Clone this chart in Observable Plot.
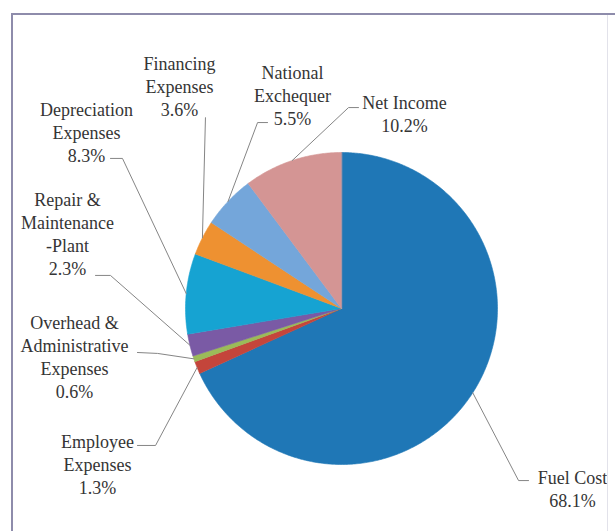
<!DOCTYPE html>
<html><head><meta charset="utf-8">
<script src="https://cdn.jsdelivr.net/npm/d3@7"></script>
<script src="https://cdn.jsdelivr.net/npm/@observablehq/plot@0.6"></script>
<style>
html,body{margin:0;padding:0;background:#fff;}
#wrap{position:relative;width:615px;height:531px;overflow:hidden;}
#chart{position:absolute;left:0;top:0;}
#frame{position:absolute;left:11px;top:13px;width:640px;height:560px;border-left:2px solid #8e8cab;border-top:2px solid #8e8cab;pointer-events:none;}
#rightEdge{position:absolute;left:607px;top:15px;width:1px;height:520px;background:#e2e2ea;pointer-events:none;}
</style></head><body>
<div id="wrap"><div id="chart"></div><div id="frame"></div><div id="rightEdge"></div></div>
<script>
// ---- data ----
const categories = ["Fuel Cost","Employee Expenses","Overhead & Administrative Expenses","Repair & Maintenance -Plant","Depreciation Expenses","Financing Expenses","National Exchequer","Net Income"];
const values = [68.1, 1.3, 0.6, 2.3, 8.3, 3.6, 5.5, 10.2];
const labelLines = [["Fuel Cost"],["Employee","Expenses"],["Overhead &","Administrative","Expenses"],["Repair &","Maintenance","-Plant"],["Depreciation","Expenses"],["Financing","Expenses"],["National","Exchequer"],["Net Income"]];
const colors = ["#1f77b6","#c4453b","#9bbb59","#7a5aa5","#16a3d2","#ee9131","#74a6da","#d49594"];

// ---- layout (unit = pie radius, origin = pie centre, y up) ----
const labelAnchor = [[1.481,-1.090],[-1.564,-0.859],[-1.712,-0.096],[-1.756,0.692],[-1.635,1.269],[-1.038,1.564],[-0.314,1.506],[0.404,1.314]];
const leaderTick  = [[1.199,-1.103],[-1.308,-0.878],[-1.308,-0.282],[-1.577,0.212],[-1.481,0.962],[-0.872,1.224],[-0.474,1.192],[0.109,1.288]];
const leaderElbow = [[1.135,-1.103],[-1.192,-0.878],[-1.179,-0.288],[-1.481,0.212],[-1.404,0.962],[-0.872,1.224],[-0.538,1.192],[0.045,1.288]];
const lineGap = 0.146;

// ---- derived geometry ----
const arcs = d3.pie().sort(null).value(d => d)(values);
const slicePts = arcs.flatMap((a, i) => {
  const n = Math.max(2, Math.ceil((a.endAngle - a.startAngle) / 0.01));
  const pts = [{name: categories[i], x: 0, y: 0}];
  for (let k = 0; k <= n; ++k) {
    const t = a.startAngle + (a.endAngle - a.startAngle) * k / n;
    pts.push({name: categories[i], x: Math.sin(t), y: Math.cos(t)});
  }
  return pts;
});
const shadowPts = d3.range(0, 361, 2).map(d => ({x: Math.sin(d * Math.PI / 180), y: Math.cos(d * Math.PI / 180)}));

const leaderPts = arcs.flatMap((a, i) => {
  const m = (a.startAngle + a.endAngle) / 2;
  return [
    {name: categories[i], x: leaderTick[i][0], y: leaderTick[i][1]},
    {name: categories[i], x: leaderElbow[i][0], y: leaderElbow[i][1]},
    {name: categories[i], x: Math.sin(m), y: Math.cos(m)}
  ];
});

const textRows = labelLines.flatMap((lines, i) => {
  const all = [...lines, values[i].toFixed(1) + "%"];
  return all.map((t, j) => ({text: t, x: labelAnchor[i][0], y: labelAnchor[i][1] - j * lineGap}));
});

const chart = Plot.plot({
  width: 615, height: 531, margin: 0,
  x: {domain: [-341/156, 274/156], axis: null},
  y: {domain: [-223/156, 308/156], axis: null},
  color: {domain: categories, range: colors},
  marks: [
    Plot.line(shadowPts, {x: "x", y: "y", fill: "#b9a9bd", fillOpacity: 0.55, stroke: "none", dy: 3, ariaLabel: "shadow"}),
    Plot.line(slicePts, {x: "x", y: "y", z: "name", fill: "name", stroke: "name", strokeWidth: 0.6, curve: "linear-closed"}),
    Plot.line(leaderPts, {x: "x", y: "y", z: "name", stroke: "#858585", strokeWidth: 1}),
    Plot.text(textRows, {x: "x", y: "y", text: "text", fontFamily: "Liberation Serif", fontSize: 18, fill: "#353535", textAnchor: "middle", lineAnchor: "middle", ariaLabel: "labels"})
  ]
});
document.getElementById("chart").appendChild(chart);
const sh = chart.querySelector('g[aria-label="shadow"]');
if (sh) sh.style.filter = "blur(3px)";
chart.querySelectorAll('g[aria-label="labels"] text').forEach(t => { t.style.letterSpacing = "0.9px"; });
</script>
</body></html>
